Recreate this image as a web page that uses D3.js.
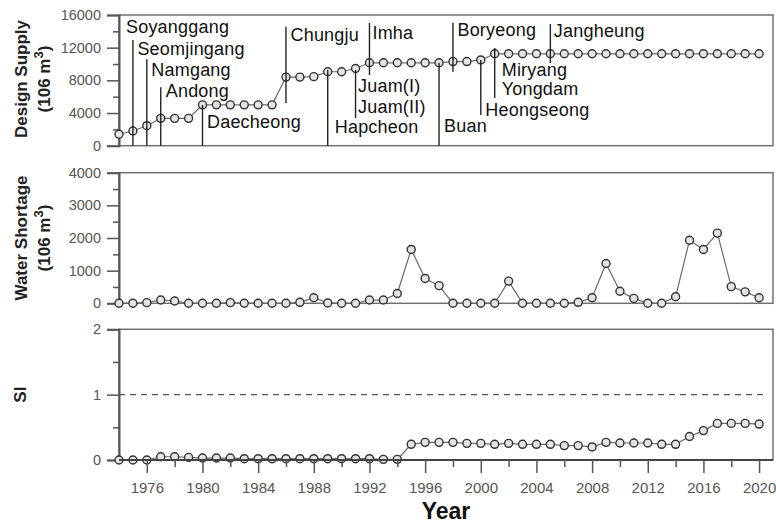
<!DOCTYPE html>
<html><head><meta charset="utf-8">
<script src="https://cdn.jsdelivr.net/npm/d3@7"></script>
<style>html,body{margin:0;padding:0;background:#fff}svg{display:block}</style>
</head><body>
<svg id="c" width="776" height="526"></svg>
<script>
// ---------------- data ----------------
const years = [1974,1975,1976,1977,1978,1979,1980,1981,1982,1983,1984,1985,1986,1987,1988,1989,1990,1991,1992,1993,1994,1995,1996,1997,1998,1999,2000,2001,2002,2003,2004,2005,2006,2007,2008,2009,2010,2011,2012,2013,2014,2015,2016,2017,2018,2019,2020];
const designSupply = [1400,1800,2450,3350,3350,3350,5000,5000,5000,5000,5000,5000,8400,8400,8450,9050,9050,9450,10150,10150,10150,10150,10150,10150,10300,10300,10500,11250,11250,11250,11250,11250,11250,11250,11250,11250,11250,11250,11250,11250,11250,11250,11250,11250,11250,11250,11250];
const waterShortage = [0,0,20,100,70,0,0,0,20,0,0,0,0,30,170,10,0,0,100,100,300,1650,760,540,0,0,0,0,680,0,0,0,0,30,170,1220,370,150,0,0,200,1930,1650,2150,510,350,170];
const si = [0,0,0,0.05,0.05,0.04,0.03,0.03,0.03,0.02,0.02,0.02,0.02,0.02,0.02,0.02,0.02,0.02,0.02,0.01,0.01,0.24,0.27,0.27,0.27,0.255,0.255,0.24,0.255,0.24,0.24,0.24,0.22,0.22,0.2,0.27,0.26,0.26,0.26,0.24,0.24,0.36,0.45,0.56,0.56,0.56,0.55];

const supplyTicks = [0,4000,8000,12000,16000];
const shortageTicks = [0,1000,2000,3000,4000];
const siTicks = [0,1,2];
const yearTicks = [1976,1980,1984,1988,1992,1996,2000,2004,2008,2012,2016,2020];

const damNames = ["Soyanggang","Seomjingang","Namgang","Andong","Daecheong","Chungju","Hapcheon","Juam(I)","Juam(II)","Imha","Buan","Boryeong","Heongseong","Miryang","Yongdam","Jangheung"];
const damYears = [1974,1975,1976,1977,1980,1986,1989,1991,1991,1992,1997,1998,2000,2001,2001,2005];

// ---------------- layout (positions only) ----------------
const X0 = 119, X1 = 773;
const panels = [
  {key:"supply", y0:145.7, y1:15, max:16000, minor:2000, ticks:supplyTicks, vals:designSupply},
  {key:"short",  y0:303.3, y1:172.7, max:4000, minor:500, ticks:shortageTicks, vals:waterShortage},
  {key:"si",     y0:460, y1:329.3, max:2, minor:0.5, ticks:siTicks, vals:si}
];
// per-label layout: text x offset from line, baseline y (px)
const labelLayout = {
  "Soyanggang":[7,33.3], "Seomjingang":[4.5,55], "Namgang":[4.5,76], "Andong":[5,96.7],
  "Daecheong":[4.5,128.3], "Chungju":[4.5,40.7], "Hapcheon":[7,132.7], "Juam(I)":[2.5,92.2],
  "Juam(II)":[2.5,112.7], "Imha":[3,39.3], "Buan":[5,131.7], "Boryeong":[4.5,36],
  "Heongseong":[4.5,115.5], "Miryang":[7,75.5], "Yongdam":[7,95.2], "Jangheung":[3.5,36.7]
};
// marker lines: year -> [top px, bottom px]
const lineLayout = [
  [1975,40,145.7],[1976,59.3,145.7],[1977,87.3,145.7],[1980,105,145.7],[1986,26.7,103],
  [1989,70,145.7],[1991,70,118],[1992,23,75],[1997,63,145.7],[1998,22.7,71.7],
  [2000,60,115],[2001,48,98],[2005,24,63]
];

const svg = d3.select("#c");
svg.append("rect").attr("width",776).attr("height",526).attr("fill","#fff");
const x = d3.scaleLinear().domain([1974,2021]).range([X0,X1]);
const tickFont = "'Liberation Sans', Arial, sans-serif";

panels.forEach(p => {
  const y = d3.scaleLinear().domain([0,p.max]).range([p.y0,p.y1]);
  p.y = y;
  const g = svg.append("g");
  g.append("rect").attr("x",X0).attr("y",p.y1).attr("width",X1-X0).attr("height",p.y0-p.y1)
    .attr("fill","none").attr("stroke","#707070").attr("stroke-width",1.5);
  const ax = d3.axisLeft(y).tickValues(p.ticks).tickSize(12).tickPadding(6)
    .tickFormat(d => d3.format("d")(d));
  const ag = g.append("g").attr("transform",`translate(${X0},0)`).call(ax);
  ag.select(".domain").attr("stroke","#555").attr("stroke-width",2);
  ag.selectAll(".tick line").attr("stroke","#555").attr("stroke-width",1.5);
  ag.selectAll(".tick text").attr("fill","#555").style("font-family",tickFont).style("font-size","14.5px");
  const minors = d3.range(p.minor, p.max, p.minor*2);
  const am = d3.axisLeft(y).tickValues(minors).tickSize(6).tickFormat("");
  const mg = g.append("g").attr("transform",`translate(${X0},0)`).call(am);
  mg.select(".domain").remove();
  mg.selectAll(".tick line").attr("stroke","#555").attr("stroke-width",1.5);

  if (p.key === "si") {
    g.append("line").attr("x1",X0).attr("x2",X1-6).attr("y1",y(1)).attr("y2",y(1))
      .attr("stroke","#555").attr("stroke-width",1.2).attr("stroke-dasharray","6,5");
  }
  const line = d3.line().x((d,i)=>x(years[i])).y(d=>y(d));
  g.append("path").datum(p.vals).attr("d",line).attr("fill","none")
    .attr("stroke","#6a6a6a").attr("stroke-width",1.2);
  g.selectAll("circle").data(p.vals).join("circle")
    .attr("cx",(d,i)=>x(years[i])).attr("cy",d=>y(d)).attr("r",4)
    .attr("fill","#e4e4e4").attr("stroke","#333").attr("stroke-width",1.4);
});

// x axis at bottom panel
const bp = panels[2];
const xa = d3.axisBottom(x).tickValues(yearTicks).tickSize(13).tickPadding(9).tickFormat(d3.format("d"));
const xg = svg.append("g").attr("transform",`translate(0,${bp.y0})`).call(xa);
xg.select(".domain").attr("stroke","#444").attr("stroke-width",2).attr("d",`M${X0},0H${X1}`);
xg.selectAll(".tick line").attr("stroke","#555").attr("stroke-width",1.5);
xg.selectAll(".tick text").attr("fill","#555").style("font-family",tickFont).style("font-size","15px");
const xm = d3.axisBottom(x).tickValues(yearTicks.map(t=>t+2).filter(t=>t<2021)).tickSize(7).tickFormat("");
const xmg = svg.append("g").attr("transform",`translate(0,${bp.y0})`).call(xm);
xmg.select(".domain").remove();
xmg.selectAll(".tick line").attr("stroke","#555").attr("stroke-width",1.5);

// annotations in top panel
const ann = svg.append("g");
lineLayout.forEach(l => {
  ann.append("line").attr("x1",x(l[0])).attr("x2",x(l[0])).attr("y1",l[1]).attr("y2",l[2])
    .attr("stroke","#222").attr("stroke-width",1.4);
});
damNames.forEach((n,i) => {
  const lay = labelLayout[n];
  ann.append("text").attr("x",x(damYears[i])+lay[0]).attr("y",lay[1]).text(n)
    .attr("fill","#111").style("font-family","'Liberation Sans', Arial, sans-serif")
    .style("font-size","18px").style("letter-spacing","0.2px");
});

// axis titles
const titleFont = "'Liberation Sans', Arial, sans-serif";
function yTitle(lines, cy) {
  lines.forEach(l => {
    const t = svg.append("text").attr("transform",`translate(${l.x},${cy}) rotate(-90)`)
      .attr("text-anchor","middle").attr("fill","#222")
      .style("font-family",titleFont).style("font-size","17px").style("font-weight","bold");
    if (l.sup) {
      t.append("tspan").text(l.text);
      t.append("tspan").text("3").attr("dy",-7).style("font-size","13px");
      t.append("tspan").text(")").attr("dy",7);
    } else t.text(l.text);
  });
}
yTitle([{x:27,text:"Design Supply"},{x:50,text:"(106 m",sup:true}], 79);
yTitle([{x:27,text:"Water Shortage"},{x:50,text:"(106 m",sup:true}], 238);
yTitle([{x:26,text:"SI"}], 394.6);
svg.append("text").attr("x",446).attr("y",519).attr("text-anchor","middle").text("Year")
  .attr("fill","#111").style("font-family",titleFont).style("font-size","23px").style("font-weight","bold");
</script>
</body></html>
